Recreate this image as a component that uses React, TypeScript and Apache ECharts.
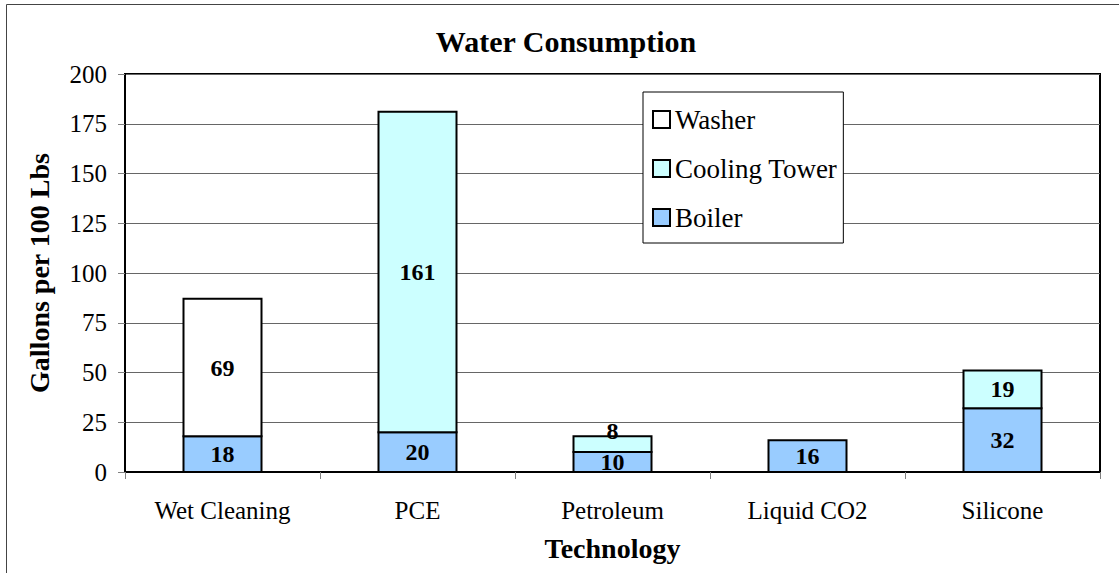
import React, { useEffect, useRef } from "react";
import * as echarts from "echarts";

const categories = ["Wet Cleaning", "PCE", "Petroleum", "Liquid CO2", "Silicone"];
const boiler = [18, 20, 10, 16, 32];
const coolingTower = [null, 161, 8, null, 19];
const washer = [69, null, null, null, null];
const legendOrder = ["Washer", "Cooling Tower", "Boiler"];

const FONT = "'Liberation Serif', 'Times New Roman', serif";

export default function App() {
  const ref = useRef<HTMLDivElement>(null);
  useEffect(() => {
    if (!ref.current) return;
    const chart = echarts.init(ref.current, null, { renderer: "svg" });

    const stackDefs = [
      { name: "Boiler", values: boiler, color: "#99CCFF" },
      { name: "Cooling Tower", values: coolingTower, color: "#CCFFFF" },
      { name: "Washer", values: washer, color: "#FFFFFF" },
    ];
    const cumulative = categories.map(() => 0);
    const series = stackDefs.map((def, si) => {
      const data: number[][] = [];
      def.values.forEach((v, i) => {
        if (v == null) return;
        data.push([i, cumulative[i], v, si]);
        cumulative[i] += v;
      });
      return {
        name: def.name,
        type: "custom",
        itemStyle: { color: def.color },
        encode: { x: 0, y: [1, 2] },
        data,
        renderItem: (params: any, api: any) => {
          const ci = api.value(0);
          const base = api.value(1);
          const v = api.value(2);
          const layer = api.value(3);
          const p0 = api.coord([ci, base]);
          const p1 = api.coord([ci, base + v]);
          const w = api.size([1, 0])[0] * 0.4;
          const h = p0[1] - p1[1];
          const shiftUp = layer > 0 && h < 24 ? -13 : 0;
          return {
            type: "rect",
            shape: { x: p0[0] - w / 2, y: p1[1], width: w, height: h },
            style: { fill: def.color, stroke: "#000", lineWidth: 2 },
            textContent: {
              style: {
                text: String(v),
                fill: "#000",
                fontFamily: FONT,
                fontWeight: "bold",
                fontSize: 24,
              },
            },
            textConfig: { position: "inside", offset: [0, shiftUp] },
          };
        },
      };
    });

    chart.setOption({
      animation: false,
      textStyle: { fontFamily: FONT },
      grid: {
        left: 125,
        right: 19,
        top: 74,
        bottom: 101,
        show: true,
        borderColor: "#000",
        borderWidth: 2,
        backgroundColor: "transparent",
      },
      graphic: [
        {
          type: "rect",
          shape: { x: 6.5, y: 4.5, width: 1300, height: 800 },
          style: { fill: "none", stroke: "#444", lineWidth: 1 },
          silent: true,
          z: -10,
        },
        {
          type: "text",
          x: 566,
          y: 41,
          style: {
            text: "Water Consumption",
            fontFamily: FONT,
            fontWeight: "bold",
            fontSize: 30,
            fill: "#000",
            textAlign: "center",
            textVerticalAlign: "middle",
          },
        },
      ],
      legend: {
        data: legendOrder,
        orient: "vertical",
        left: 643,
        top: 92,
        padding: [14, 6, 12, 9],
        itemWidth: 17,
        itemHeight: 17,
        itemGap: 22,
        backgroundColor: "#fff",
        borderColor: "#000",
        borderWidth: 1,
        icon: "rect",
        itemStyle: { borderColor: "#000", borderWidth: 2 },
        textStyle: { fontFamily: FONT, fontSize: 27, color: "#000", padding: [0, 0, 0, 0] },
      },
      xAxis: {
        type: "category",
        data: categories,
        name: "Technology",
        nameLocation: "middle",
        nameGap: 62,
        nameTextStyle: { fontFamily: FONT, fontWeight: "bold", fontSize: 28, color: "#000" },
        axisLine: { lineStyle: { color: "#000", width: 2 } },
        axisTick: { show: true, length: 7, lineStyle: { color: "#808080", width: 1 } },
        axisLabel: { fontFamily: FONT, fontSize: 25, color: "#000", margin: 26 },
      },
      yAxis: {
        type: "value",
        min: 0,
        max: 200,
        interval: 25,
        name: "Gallons per 100 Lbs",
        nameLocation: "middle",
        nameGap: 72,
        nameTextStyle: { fontFamily: FONT, fontWeight: "bold", fontSize: 28, color: "#000" },
        axisLine: { show: true, lineStyle: { color: "#000", width: 2 } },
        axisTick: { show: true, length: 7, lineStyle: { color: "#808080", width: 1 } },
        axisLabel: { fontFamily: FONT, fontSize: 25, color: "#000", margin: 18 },
        splitLine: { lineStyle: { color: "#666", width: 1 } },
      },
      series,
    });
    return () => chart.dispose();
  }, []);
  return (
    <div
      ref={ref}
      style={{ position: "fixed", left: 0, top: 0, width: 1119, height: 573, background: "#fff" }}
    />
  );
}
